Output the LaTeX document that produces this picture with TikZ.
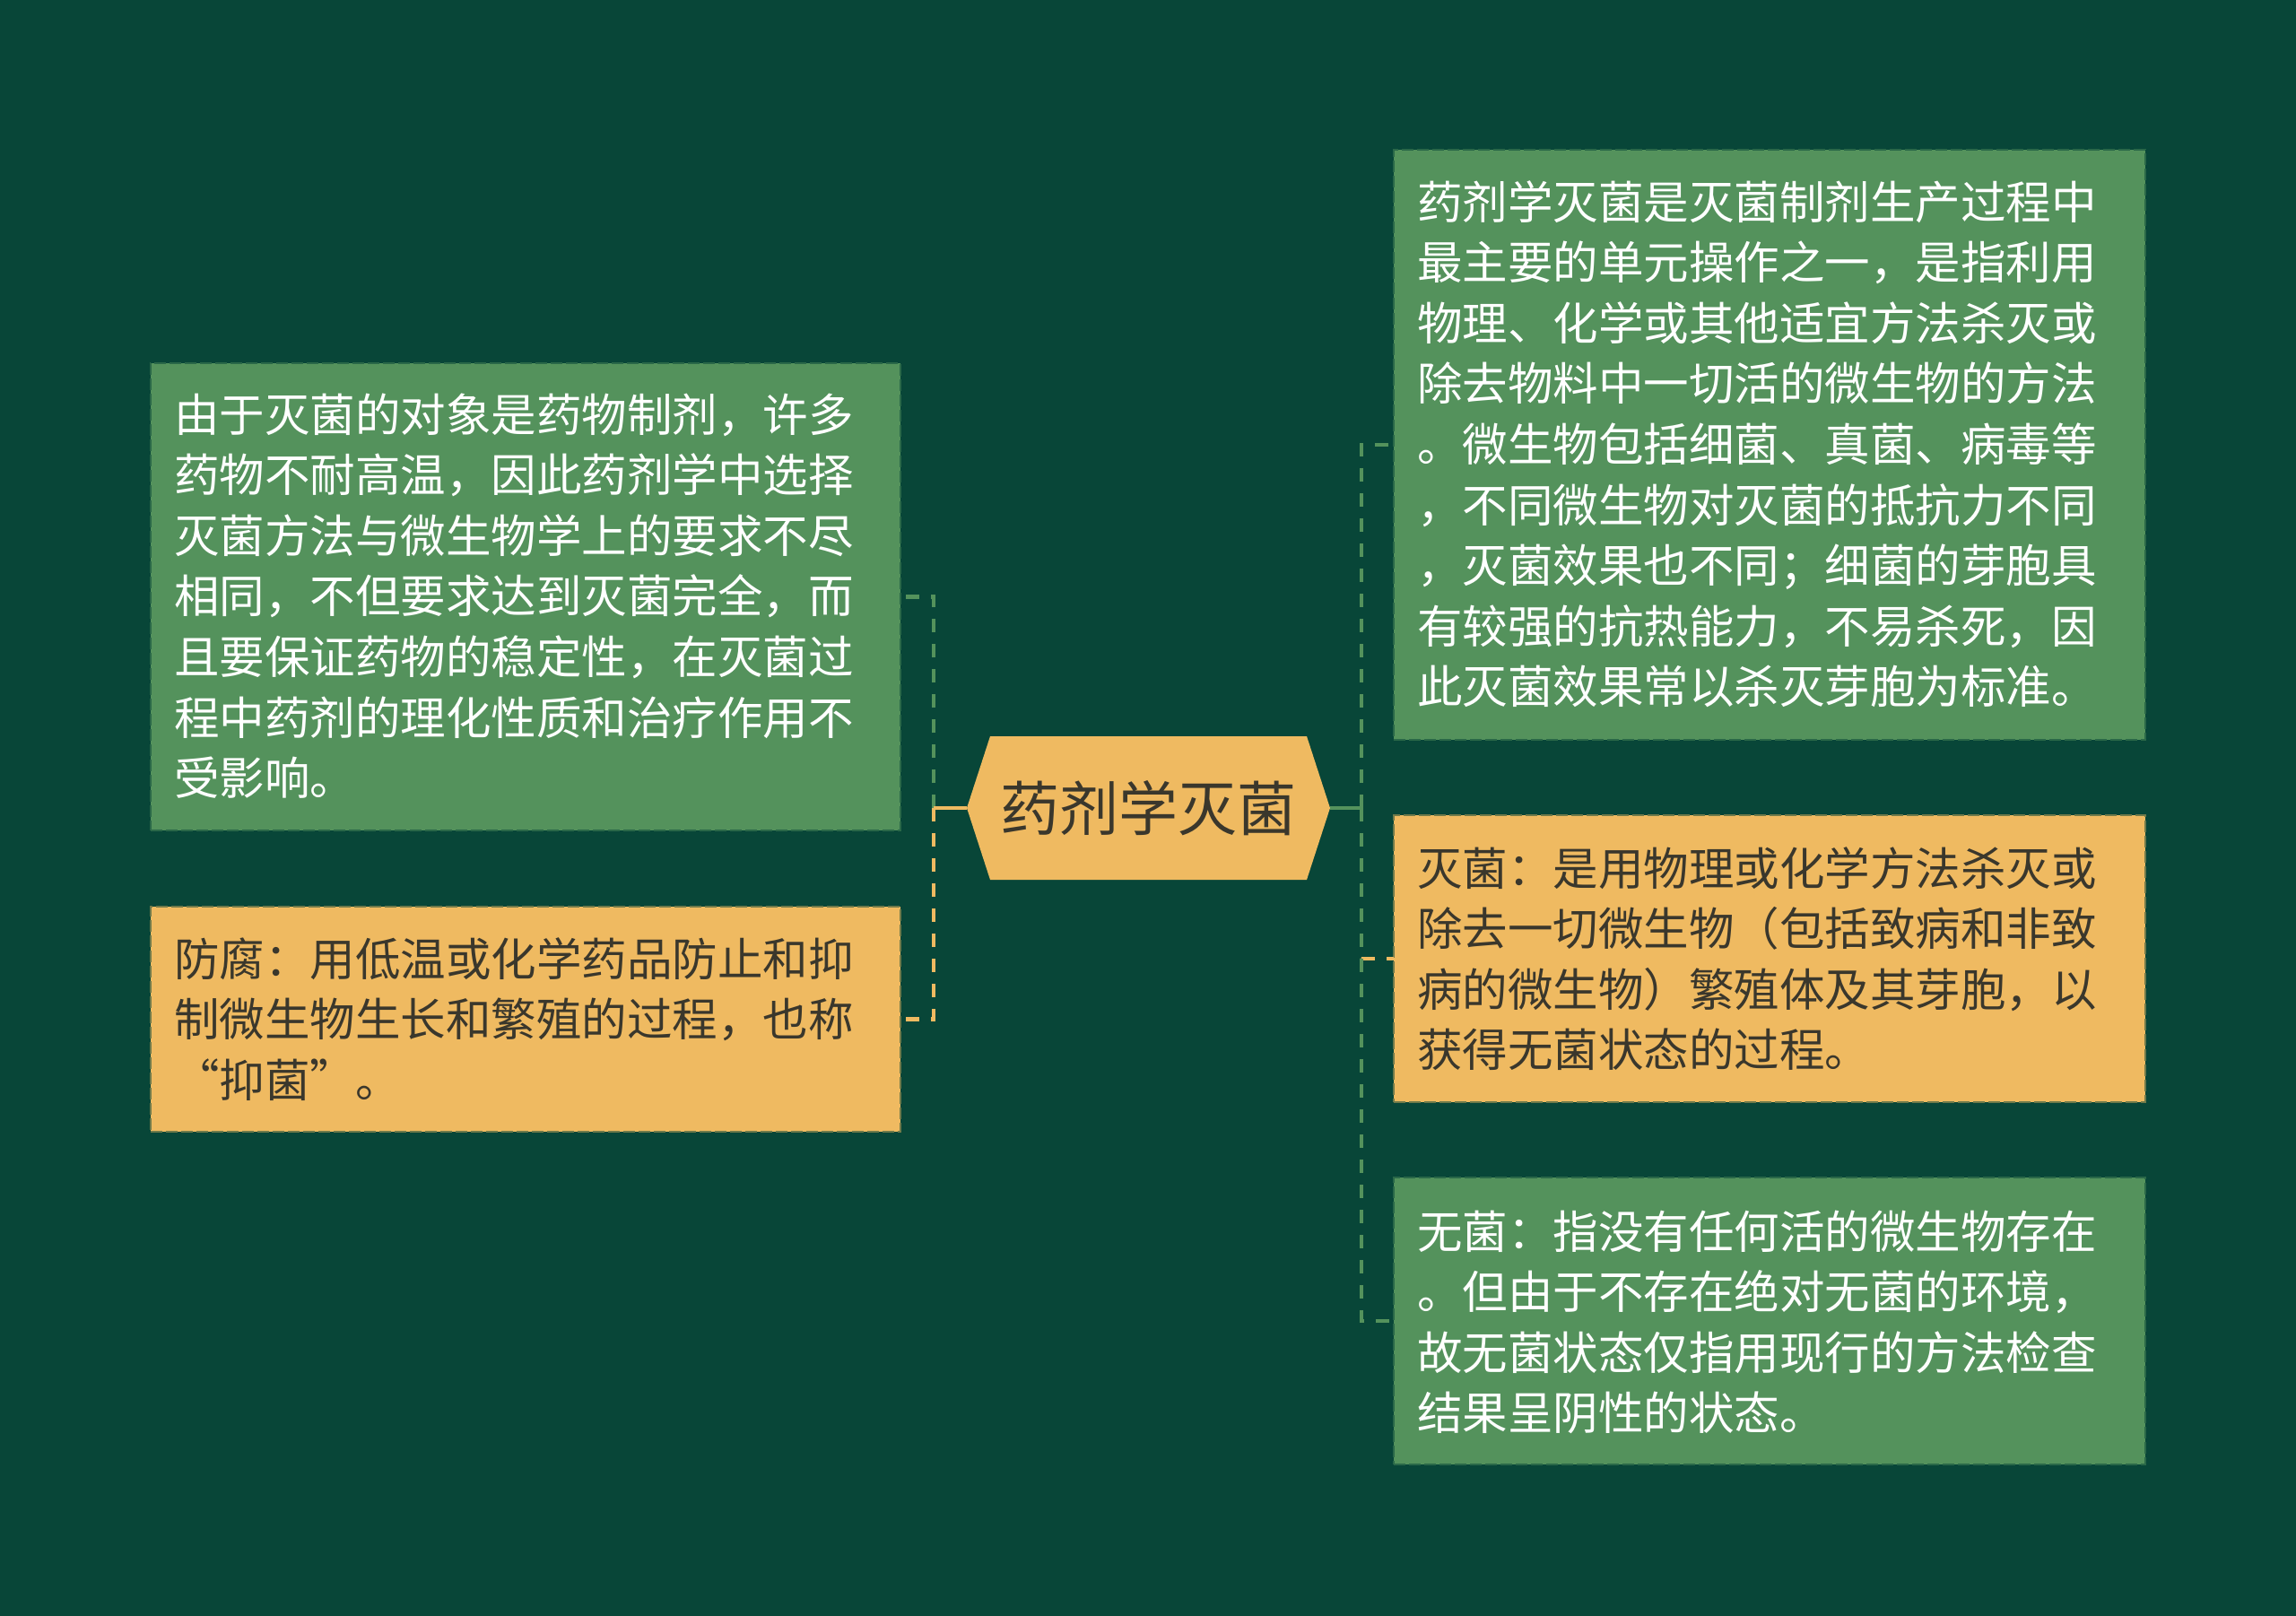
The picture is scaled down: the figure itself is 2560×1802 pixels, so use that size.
\documentclass[tikz,border=0pt]{standalone}
\usepackage{fontspec}
\setmainfont{Noto Sans CJK SC}
\definecolor{bg}{HTML}{084638}
\definecolor{gfill}{HTML}{54925C}
\definecolor{ofill}{HTML}{EFBA61}
\definecolor{dtext}{HTML}{3A372C}
\tikzset{
  gbox/.style={rectangle, inner sep=0pt, outer sep=0pt, fill=gfill, draw=gfill!45!bg, line width=2.5pt, dash pattern=on 13pt off 4pt},
  obox/.style={rectangle, inner sep=0pt, outer sep=0pt, fill=ofill, draw=ofill!45!bg, line width=2.5pt, dash pattern=on 13pt off 4pt},
  wtxt/.style={anchor=base west, inner sep=0pt, text=white, font=\fontsize{50.5}{60}\selectfont},
  dtxt/.style={anchor=base west, inner sep=0pt, text=dtext, font=\fontsize{50.5}{60}\selectfont},
  gdash/.style={draw=gfill, line width=4.5pt, dash pattern=on 15pt off 13pt},
  odash/.style={draw=ofill, line width=4.5pt, dash pattern=on 15pt off 13pt},
  gsolid/.style={draw=gfill, line width=4.5pt},
  osolid/.style={draw=ofill, line width=4.5pt},
}
\begin{document}
\begin{tikzpicture}[x=1pt,y=-1pt]
\fill[bg] (0,0) rectangle (2560,1802);
\useasboundingbox (0,0) rectangle (2560,1802);

% boxes
\node[gbox, minimum width=836pt, minimum height=521pt] (L1) at (586,665.5) {};
\node[obox, minimum width=836pt, minimum height=251pt] (L2) at (586,1136.5) {};
\node[gbox, minimum width=838pt, minimum height=658pt] (R1) at (1973,496) {};
\node[obox, minimum width=838pt, minimum height=320pt] (R2) at (1973,1069) {};
\node[gbox, minimum width=838pt, minimum height=320pt] (R3) at (1973,1473) {};

% center hexagon
\fill[ofill] (1078,901) -- (1104,821) -- (1457,821) -- (1483,901) -- (1457,981) -- (1104,981) -- cycle;
\node[rectangle, inner sep=0pt, minimum width=405pt, minimum height=160pt] (hex) at (1280.5,901) {};
\node[anchor=base, inner sep=0pt, text=dtext, font=\fontsize{66}{70}\selectfont] (hext) at (1280.5,926) {药剂学灭菌};

% junctions
\coordinate (jl) at (1041,901);
\coordinate (jr) at (1518,901);

% left connectors
\draw[gdash] (jl) |- (L1.east);
\draw[odash] (jl) |- (L2.east);
\draw[osolid] (hex.west) -- (jl);

% right connectors
\draw[odash] (jr) |- (R2.west);
\draw[gdash] (jr) |- (R1.west);
\draw[gdash] (jr) |- (R3.west);
\draw[gsolid] (hex.east) -- (jr);

% texts
\foreach \t [count=\i from 0] in {由于灭菌的对象是药物制剂，许多,药物不耐高温，因此药剂学中选择,灭菌方法与微生物学上的要求不尽,相同，不但要求达到灭菌完全，而,且要保证药物的稳定性，在灭菌过,程中药剂的理化性质和治疗作用不,受影响。}
  \node[wtxt] (L1t\i) at (194,{481+67.6*\i}) {\t};
\foreach \t [count=\i from 0] in {防腐：用低温或化学药品防止和抑,制微生物生长和繁殖的过程，也称,“抑菌”。}
  \node[dtxt] (L2t\i) at (194,{1088+67.6*\i}) {\t};
\foreach \t [count=\i from 0] in {药剂学灭菌是灭菌制剂生产过程中,最主要的单元操作之一，是指利用,物理、化学或其他适宜方法杀灭或,除去物料中一切活的微生物的方法,。微生物包括细菌、真菌、病毒等,，不同微生物对灭菌的抵抗力不同,，灭菌效果也不同；细菌的芽胞具,有较强的抗热能力，不易杀死，因,此灭菌效果常以杀灭芽胞为标准。}
  \node[wtxt] (R1t\i) at (1580,{244+67.6*\i}) {\t};
\foreach \t [count=\i from 0] in {灭菌：是用物理或化学方法杀灭或,除去一切微生物（包括致病和非致,病的微生物）繁殖体及其芽胞，以,获得无菌状态的过程。}
  \node[dtxt] (R2t\i) at (1580,{987+67.6*\i}) {\t};
\foreach \t [count=\i from 0] in {无菌：指没有任何活的微生物存在,。但由于不存在绝对无菌的环境，,故无菌状态仅指用现行的方法检查,结果呈阴性的状态。}
  \node[wtxt] (R3t\i) at (1580,{1392+67.6*\i}) {\t};
\end{tikzpicture}
\end{document}
